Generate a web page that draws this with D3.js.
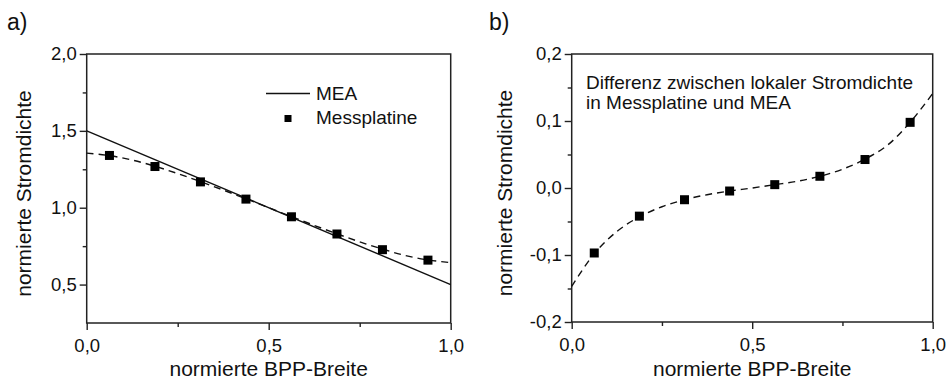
<!DOCTYPE html>
<html>
<head>
<meta charset="utf-8">
<script src="https://cdn.jsdelivr.net/npm/d3@7"></script>
<style>
  html, body { margin: 0; padding: 0; background: #fff; }
  svg { display: block; font-family: "Liberation Sans", Arial, sans-serif; }
  .axis path { display: none; }
  .axis line { stroke: #222; stroke-width: 1.4; }
  .axis text { fill: #111; font-size: 18.5px; font-family: "Liberation Sans", Arial, sans-serif; }
</style>
</head>
<body>
<svg id="chart" width="950" height="383"></svg>
<script>
// Position across the plate width (normalised), eight measuring segments
const segX = [0.0625, 0.1875, 0.3125, 0.4375, 0.5625, 0.6875, 0.8125, 0.9375];

// Panel a) measured current density of the measuring plate
const messplatine = [1.340, 1.268, 1.168, 1.056, 0.941, 0.829, 0.727, 0.659];

// Panel a) MEA current density (linear profile)
const meaX = [0, 1];
const meaY = [1.5, 0.5];

// Smooth fit curves, sampled along the width
const fitX = [0, 0.0625, 0.125, 0.1875, 0.25, 0.3125, 0.375, 0.4375, 0.5,
              0.5625, 0.625, 0.6875, 0.75, 0.8125, 0.875, 0.9375, 1.0];
const fitA = [1.355, 1.339, 1.310, 1.270, 1.222, 1.170, 1.115, 1.058, 1.000,
              0.942, 0.885, 0.830, 0.778, 0.731, 0.689, 0.660, 0.643];
const fitB = [-0.147, -0.098, -0.065, -0.043, -0.028, -0.0175, -0.010, -0.0045, 0.0,
              0.005, 0.010, 0.0175, 0.028, 0.043, 0.064, 0.098, 0.141];

// Panel b) difference between local current density in plate and MEA
const differenz = [-0.097, -0.042, -0.0175, -0.0045, 0.005, 0.0175, 0.0425, 0.098];

// Tick values
const xMajor = [0, 0.5, 1.0];
const xMinor = [0.25, 0.75];
const yMajorA = [0.5, 1.0, 1.5, 2.0];
const yMinorA = [0.75, 1.25, 1.75];
const yMajorB = [-0.2, -0.1, 0.0, 0.1, 0.2];
const yMinorB = [-0.15, -0.05, 0.05, 0.15];

const fmt = d => d3.format(".1f")(d).replace(".", ",").replace("−", "-");

const svg = d3.select("#chart");

function panel(opts) {
  const { x0, x1, y0, y1, yDomain, yMajor, yMinor, letter, letterX, titleX } = opts;
  const x = d3.scaleLinear().domain([0, 1]).range([x0, x1]);
  const y = d3.scaleLinear().domain(yDomain).range([y1, y0]);
  const g = svg.append("g");

  // axes: major (labelled) and minor ticks, pointing outward
  g.append("g").attr("class", "axis").attr("transform", `translate(0,${y1})`)
    .call(d3.axisBottom(x).tickValues(xMajor).tickSize(7).tickPadding(4).tickFormat(fmt))
    .selectAll("text").attr("dy", "0.95em");
  g.append("g").attr("class", "axis").attr("transform", `translate(0,${y1})`)
    .call(d3.axisBottom(x).tickValues(xMinor).tickSize(4).tickFormat(""));
  g.append("g").attr("class", "axis").attr("transform", `translate(${x0},0)`)
    .call(d3.axisLeft(y).tickValues(yMajor).tickSize(7).tickPadding(3).tickFormat(fmt));
  g.append("g").attr("class", "axis").attr("transform", `translate(${x0},0)`)
    .call(d3.axisLeft(y).tickValues(yMinor).tickSize(4).tickFormat(""));

  // frame
  g.append("rect").attr("x", x0).attr("y", y0)
    .attr("width", x1 - x0).attr("height", y1 - y0)
    .attr("fill", "none").attr("stroke", "#222").attr("stroke-width", 1.5);

  // axis titles
  g.append("text").attr("x", (x0 + x1) / 2).attr("y", 376)
    .attr("text-anchor", "middle").attr("font-size", 21).attr("fill", "#111")
    .text("normierte BPP-Breite");
  g.append("text")
    .attr("transform", `translate(${titleX},${(y0 + y1) / 2 + 5}) rotate(-90)`)
    .attr("text-anchor", "middle").attr("font-size", 21).attr("fill", "#111")
    .text("normierte Stromdichte");

  // panel letter
  g.append("text").attr("x", letterX).attr("y", 30)
    .attr("font-size", 23).attr("fill", "#111").text(letter);

  return { g, x, y };
}

const sq = 9;

// ---- panel a)
const A = panel({ x0: 86.7, x1: 450.7, y0: 54, y1: 323, yDomain: [0.25, 2.0],
                  yMajor: yMajorA, yMinor: yMinorA, letter: "a)", letterX: 7, titleX: 30.5 });

A.g.append("path")
  .datum(d3.zip(meaX, meaY))
  .attr("fill", "none").attr("stroke", "#111").attr("stroke-width", 1.4)
  .attr("d", d3.line().x(d => A.x(d[0])).y(d => A.y(d[1])));

A.g.append("path")
  .datum(d3.zip(fitX, fitA))
  .attr("fill", "none").attr("stroke", "#111").attr("stroke-width", 1.4)
  .attr("stroke-dasharray", "7,5")
  .attr("d", d3.line().curve(d3.curveCatmullRom).x(d => A.x(d[0])).y(d => A.y(d[1])));

A.g.selectAll("rect.pt").data(d3.zip(segX, messplatine)).join("rect")
  .attr("class", "pt")
  .attr("x", d => A.x(d[0]) - sq / 2).attr("y", d => A.y(d[1]) - sq / 2)
  .attr("width", sq).attr("height", sq).attr("fill", "#000");

// legend
const leg = A.g.append("g");
leg.append("line").attr("x1", 266).attr("x2", 310).attr("y1", 93.5).attr("y2", 93.5)
  .attr("stroke", "#111").attr("stroke-width", 1.4);
leg.append("text").attr("x", 316).attr("y", 100).attr("font-size", 19).attr("fill", "#111").text("MEA");
leg.append("rect").attr("x", 288 - 3.5).attr("y", 118.5 - 3.5).attr("width", 7).attr("height", 7).attr("fill", "#000");
leg.append("text").attr("x", 316).attr("y", 124).attr("font-size", 19).attr("fill", "#111").text("Messplatine");

// ---- panel b)
const B = panel({ x0: 571.7, x1: 932.7, y0: 54, y1: 322, yDomain: [-0.2, 0.2],
                  yMajor: yMajorB, yMinor: yMinorB, letter: "b)", letterX: 489, titleX: 511.5 });

B.g.append("path")
  .datum(d3.zip(fitX, fitB))
  .attr("fill", "none").attr("stroke", "#111").attr("stroke-width", 1.4)
  .attr("stroke-dasharray", "7,5")
  .attr("d", d3.line().curve(d3.curveCatmullRom).x(d => B.x(d[0])).y(d => B.y(d[1])));

B.g.selectAll("rect.pt").data(d3.zip(segX, differenz)).join("rect")
  .attr("class", "pt")
  .attr("x", d => B.x(d[0]) - sq / 2).attr("y", d => B.y(d[1]) - sq / 2)
  .attr("width", sq).attr("height", sq).attr("fill", "#000");

const note = B.g.append("text").attr("font-size", 19).attr("fill", "#111");
note.append("tspan").attr("x", 586).attr("y", 88.5).text("Differenz zwischen lokaler Stromdichte");
note.append("tspan").attr("x", 586).attr("y", 108.5).text("in Messplatine und MEA");
</script>
</body>
</html>
